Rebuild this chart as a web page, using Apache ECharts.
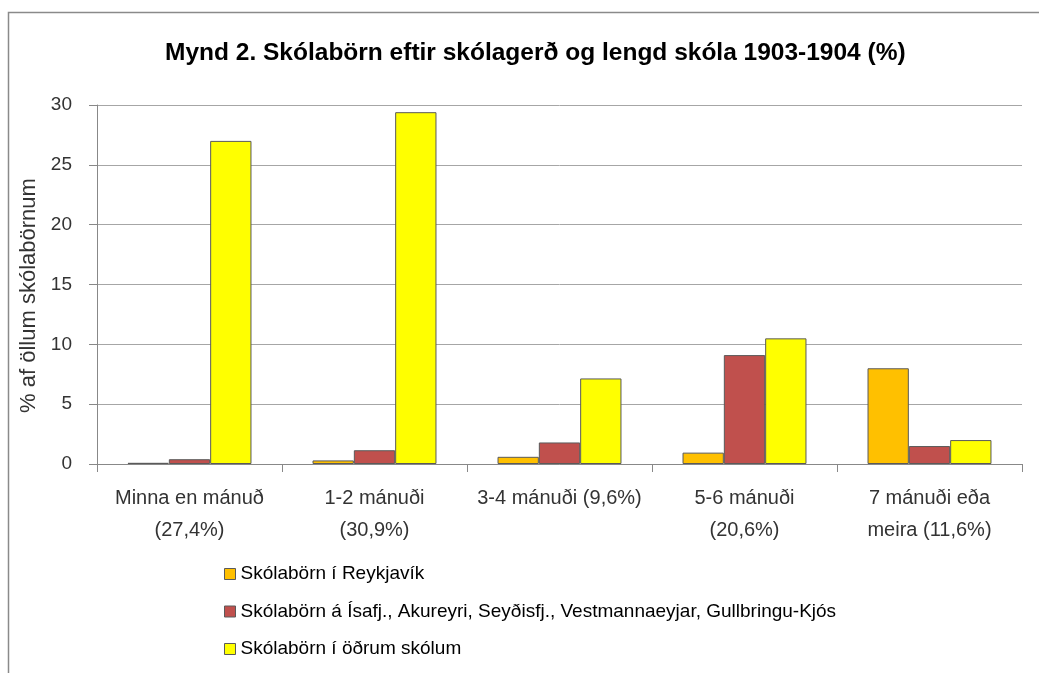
<!DOCTYPE html>
<html>
<head>
<meta charset="utf-8">
<script src="https://cdn.jsdelivr.net/npm/echarts@6/dist/echarts.min.js"></script>
<style>
  html,body{margin:0;padding:0;background:#fff;}
  #chart{width:1039px;height:673px;}
</style>
</head>
<body>
<div id="chart"></div>
<script>
(function(){
  const categories = ['Minna en mánuð\n(27,4%)', '1-2 mánuði\n(30,9%)', '3-4 mánuði (9,6%)', '5-6 mánuði\n(20,6%)', '7 mánuði eða\nmeira (11,6%)'];
  const seriesNames = [
    'Skólabörn í Reykjavík',
    'Skólabörn á Ísafj., Akureyri, Seyðisfj., Vestmannaeyjar, Gullbringu-Kjós',
    'Skólabörn í öðrum skólum'
  ];
  const reykjavik = [0.1, 0.3, 0.6, 0.95, 8.0];
  const kaupstadir = [0.4, 1.15, 1.8, 9.1, 1.5];
  const adrir = [27.0, 29.4, 7.15, 10.5, 2.0];
  const colors = ['#FFC000', '#C0504D', '#FFFF00'];

  const FONT = '"Liberation Sans", Arial, sans-serif';
  const chart = echarts.init(document.getElementById('chart'));

  const bar = (name, data, color) => ({
    name, type:'bar', data,
    barGap:'0%', barCategoryGap:'33%',
    itemStyle:{color, borderColor:'#5a5a5a', borderWidth:1},
    emphasis:{disabled:true}
  });

  chart.setOption({
    animation:false,
    textStyle:{fontFamily:FONT},
    graphic:[{
      type:'rect', silent:true,
      shape:{x:8.5, y:12.5, width:1100, height:700},
      style:{fill:'none', stroke:'#8a8a8a', lineWidth:1.5}
    }],
    title:{
      text:'Mynd 2. Skólabörn eftir skólagerð og lengd skóla 1903-1904 (%)',
      left:160, top:36,
      textStyle:{fontFamily:FONT, fontSize:24.5, fontWeight:'bold', color:'#000'}
    },
    grid:{left:97, right:17, top:105, bottom:209, containLabel:false},
    legend:{
      orient:'vertical', left:219, top:559,
      itemWidth:11, itemHeight:11, itemGap:17.5,
      icon:'rect',
      itemStyle:{borderColor:'#5a5a5a', borderWidth:1},
      textStyle:{fontFamily:FONT, fontSize:19, color:'#000', lineHeight:20},
      data:seriesNames
    },
    xAxis:{
      type:'category', data:categories,
      axisLine:{lineStyle:{color:'#888', width:1}},
      axisTick:{show:true, length:8, lineStyle:{color:'#888'}},
      axisLabel:{color:'#333', fontSize:20, lineHeight:32, margin:18, interval:0}
    },
    yAxis:{
      type:'value', min:0, max:30, interval:5,
      name:'% af öllum skólabörnum', nameLocation:'middle', nameGap:55, nameRotate:90,
      nameTextStyle:{fontFamily:FONT, fontSize:22, color:'#333', padding:[0,22,0,0]},
      axisLine:{show:true, lineStyle:{color:'#888'}},
      axisTick:{show:true, length:8, lineStyle:{color:'#888'}},
      axisLabel:{color:'#333', fontSize:19, margin:25},
      splitLine:{lineStyle:{color:'#a6a6a6', width:1}}
    },
    series:[
      bar(seriesNames[0], reykjavik, colors[0]),
      bar(seriesNames[1], kaupstadir, colors[1]),
      bar(seriesNames[2], adrir, colors[2])
    ]
  });
})();
</script>
</body>
</html>
